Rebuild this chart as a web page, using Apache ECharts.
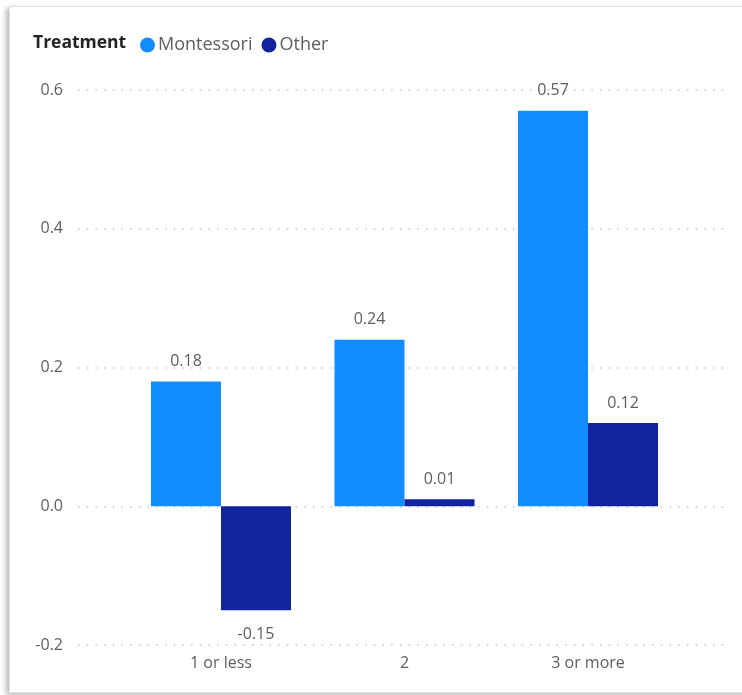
<!DOCTYPE html>
<html>
<head>
<meta charset="utf-8">
<script src="https://cdn.jsdelivr.net/npm/echarts@6/dist/echarts.min.js"></script>
<style>
  html, body { margin: 0; padding: 0; background: #ffffff; overflow: hidden; }
  #card {
    position: absolute; left: 9px; top: 6px; width: 760px; height: 685px;
    background: #ffffff; border: 1px solid #e3e3e3;
    box-shadow: -3px 2px 5px rgba(0,0,0,0.28);
  }
  #chart { position: absolute; left: 0; top: 0; width: 742px; height: 695px; }
</style>
</head>
<body>
<div id="card"></div>
<div id="chart"></div>
<script>
// Sessions attended per category, mean change by treatment group
const categories = ['1 or less', '2', '3 or more'];
const montessori = [0.18, 0.24, 0.57];
const other = [-0.15, 0.01, 0.12];
const yTicks = { min: -0.2, max: 0.6, interval: 0.2 };

const FONT = '"Segoe UI", "Open Sans", "Noto Sans", sans-serif';
const LABEL_GRAY = '#605E5C';

const chart = echarts.init(document.getElementById('chart'), null, { renderer: 'canvas' });

function labelled(values) {
  return values.map(v => ({
    value: v,
    label: v < 0 ? { position: 'bottom', distance: 16 } : { position: 'top', distance: 12 }
  }));
}

const dataLabel = {
  show: true,
  color: LABEL_GRAY,
  fontFamily: FONT,
  fontSize: 16,
  formatter: p => p.value.toFixed(2)
};

chart.setOption({
  animation: false,
  textStyle: { fontFamily: FONT },
  title: {
    text: 'Treatment',
    left: 33, top: 34, padding: 0,
    textStyle: { fontFamily: FONT, fontSize: 17.5, fontWeight: 'bold', color: '#252423' }
  },
  legend: {
    left: 140, top: 36, padding: 0,
    icon: 'circle', itemWidth: 15, itemHeight: 15, itemGap: 9,
    textStyle: { fontFamily: FONT, fontSize: 18, color: LABEL_GRAY, padding: [0, 0, 0, -2] },
    data: ['Montessori', 'Other']
  },
  grid: [
    // gridline / value-label area, wider than the bar area
    { left: 78, right: 14, top: 90, bottom: 50, containLabel: false },
    // bar area
    { left: 129.25, right: 62.25, top: 90, bottom: 50, containLabel: false }
  ],
  xAxis: [
    { type: 'value', gridIndex: 0, show: false, min: 0, max: 1 },
    {
      type: 'category', gridIndex: 1, data: categories, boundaryGap: true,
      axisLine: { show: false }, axisTick: { show: false }, splitLine: { show: false },
      axisLabel: { color: LABEL_GRAY, fontFamily: FONT, fontSize: 16, margin: 10 }
    }
  ],
  yAxis: [
    {
      type: 'value', gridIndex: 0, min: yTicks.min, max: yTicks.max, interval: yTicks.interval,
      axisLine: { show: false }, axisTick: { show: false },
      axisLabel: { color: LABEL_GRAY, fontFamily: FONT, fontSize: 16, margin: 15,
                   formatter: v => v.toFixed(1) },
      splitLine: { show: true, lineStyle: { color: '#c8c6c4', width: 1.5, type: [1.5, 7.2] } }
    },
    {
      type: 'value', gridIndex: 1, min: yTicks.min, max: yTicks.max, interval: yTicks.interval,
      show: false, splitLine: { show: false }
    }
  ],
  series: [
    {
      name: 'Montessori', type: 'bar', xAxisIndex: 1, yAxisIndex: 1,
      data: labelled(montessori), barWidth: 70, barGap: '0%',
      itemStyle: { color: '#118DFF' }, label: dataLabel, z: 3
    },
    {
      name: 'Other', type: 'bar', xAxisIndex: 1, yAxisIndex: 1,
      data: labelled(other), barWidth: 70, barGap: '0%',
      itemStyle: { color: '#12239E' }, label: dataLabel, z: 3
    }
  ]
});
</script>
</body>
</html>
